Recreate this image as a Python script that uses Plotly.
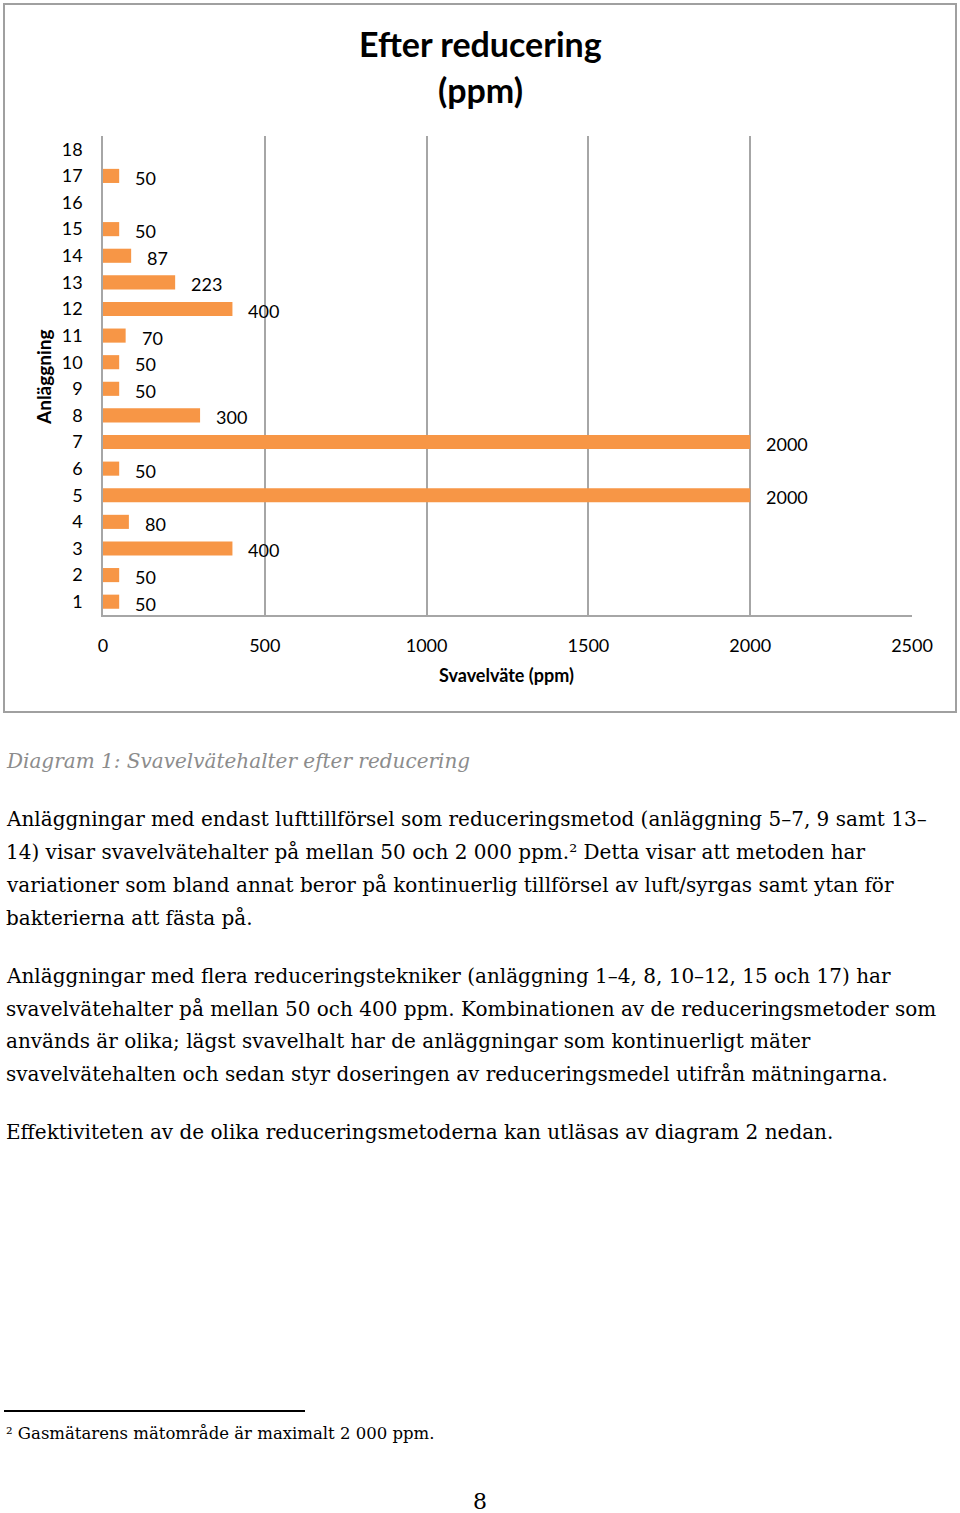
import plotly.graph_objects as go

# ---- data ----
categories = [str(i) for i in range(1, 19)]
values = [50, 50, 400, 80, 2000, 50, 2000, 300, 50, 50, 70, 400, 223, 87, 50, None, 50, None]
x_ticks = [0, 500, 1000, 1500, 2000, 2500]

title_lines = ["Efter reducering", "(ppm)"]
x_title = "Svavelväte (ppm)"
y_title = "Anläggning"

caption = "Diagram 1: Svavelvätehalter efter reducering"
para1 = [
    "Anläggningar med endast lufttillförsel som reduceringsmetod (anläggning 5–7, 9 samt 13–",
    "14) visar svavelvätehalter på mellan 50 och 2 000 ppm.² Detta visar att metoden har",
    "variationer som bland annat beror på kontinuerlig tillförsel av luft/syrgas samt ytan för",
    "bakterierna att fästa på.",
]
para2 = [
    "Anläggningar med flera reduceringstekniker (anläggning 1–4, 8, 10–12, 15 och 17) har",
    "svavelvätehalter på mellan 50 och 400 ppm. Kombinationen av de reduceringsmetoder som",
    "används är olika; lägst svavelhalt har de anläggningar som kontinuerligt mäter",
    "svavelvätehalten och sedan styr doseringen av reduceringsmedel utifrån mätningarna.",
]
para3 = ["Effektiviteten av de olika reduceringsmetoderna kan utläsas av diagram 2 nedan."]
footnote = "² Gasmätarens mätområde är maximalt 2 000 ppm."
page_no = "8"

W, H = 960, 1513
ORANGE = "#F79646"
GRID = "#A6A6A6"
CHART_FONT = "Lato"
TEXT_FONT = "DejaVu Serif"


def px(x):
    return x / W


def py(y):
    return 1 - y / H


fig = go.Figure()
fig.add_trace(go.Bar(
    x=values, y=categories, orientation="h",
    marker=dict(color=ORANGE, line=dict(width=0)),
    width=0.53, hoverinfo="x+y",
))

annotations = []
# data labels (category axis: position by index)
for idx, (c, v) in enumerate(zip(categories, values)):
    if v is None:
        continue
    annotations.append(dict(
        x=v, y=idx, xref="x", yref="y", text=str(v), showarrow=False,
        xanchor="left", yanchor="middle", xshift=14, yshift=-2,
        font=dict(family=CHART_FONT, size=18, color="#000000"),
    ))

# chart title
for i, t in enumerate(title_lines):
    annotations.append(dict(
        x=px(480), y=py(44 + i * 46), xref="paper", yref="paper", text="<b>%s</b>" % t,
        showarrow=False, xanchor="center", yanchor="middle",
        font=dict(family=CHART_FONT, size=34, color="#000000"),
    ))
# axis titles
annotations.append(dict(
    x=px(507), y=py(675), xref="paper", yref="paper", text="<b>%s</b>" % x_title,
    showarrow=False, xanchor="center", yanchor="middle",
    font=dict(family=CHART_FONT, size=18, color="#000000"),
))
annotations.append(dict(
    x=px(44), y=py(377), xref="paper", yref="paper", text="<b>%s</b>" % y_title,
    showarrow=False, xanchor="center", yanchor="middle", textangle=-90,
    font=dict(family=CHART_FONT, size=19, color="#000000"),
))

# body text
def add_line(text, y, size=20, color="#000000", italic=False, x=4, anchor="left"):
    if italic:
        text = "<i>%s</i>" % text
    annotations.append(dict(
        x=px(x), y=py(y), xref="paper", yref="paper", text=text, showarrow=False,
        xanchor=anchor, yanchor="middle",
        font=dict(family=TEXT_FONT, size=size, color=color),
    ))

add_line(caption, 761, color="#8C8C8C", italic=True)
for i, t in enumerate(para1):
    add_line(t, 819 + i * 33)
for i, t in enumerate(para2):
    add_line(t, 976 + i * 32.7)
for i, t in enumerate(para3):
    add_line(t, 1132)
add_line(footnote, 1433, size=16.5)
add_line(page_no, 1501, size=22, x=480, anchor="center")

shapes = [
    dict(type="rect", xref="paper", yref="paper", x0=px(4), x1=px(956), y0=py(712), y1=py(4),
         line=dict(color="#A0A0A0", width=2), fillcolor="rgba(0,0,0,0)", layer="below"),
    dict(type="line", xref="paper", yref="paper", x0=px(4), x1=px(305), y0=py(1411), y1=py(1411),
         line=dict(color="#000000", width=2)),
]

fig.update_layout(
    width=W, height=H, autosize=False,
    margin=dict(l=0, r=0, t=0, b=0, pad=0, autoexpand=False),
    paper_bgcolor="white", plot_bgcolor="white",
    showlegend=False,
    annotations=annotations,
    shapes=shapes,
    font=dict(family=CHART_FONT, size=18, color="#000000"),
)
fig.update_xaxes(
    domain=[px(103), px(912)], range=[0, 2500], tickvals=x_ticks,
    ticktext=[str(t) for t in x_ticks],
    showgrid=True, gridcolor=GRID, gridwidth=1.5, zeroline=False,
    showline=True, linecolor=GRID, linewidth=1.5,
    ticks="", ticklabelstandoff=14,
    tickfont=dict(family=CHART_FONT, size=18, color="#000000"),
    fixedrange=True, automargin=False,
)
fig.update_yaxes(
    domain=[py(615), py(136)], type="category",
    categoryorder="array", categoryarray=categories, range=[-0.5, 17.5],
    showgrid=False, zeroline=False,
    showline=True, linecolor=GRID, linewidth=1.5,
    ticks="", ticklabelstandoff=15,
    tickfont=dict(family=CHART_FONT, size=18, color="#000000"),
    fixedrange=True, automargin=False,
)

post = (
    "document.body.style.margin='0';"
    "document.body.style.padding='0';"
    "document.body.style.overflow='hidden';"
    "var gd=document.getElementById('{plot_id}');"
    "Plotly.relayout(gd,{width:%d,height:%d});" % (W, H)
)
fig.write_html("out.html", config={"responsive": False, "displayModeBar": False}, post_script=post)
